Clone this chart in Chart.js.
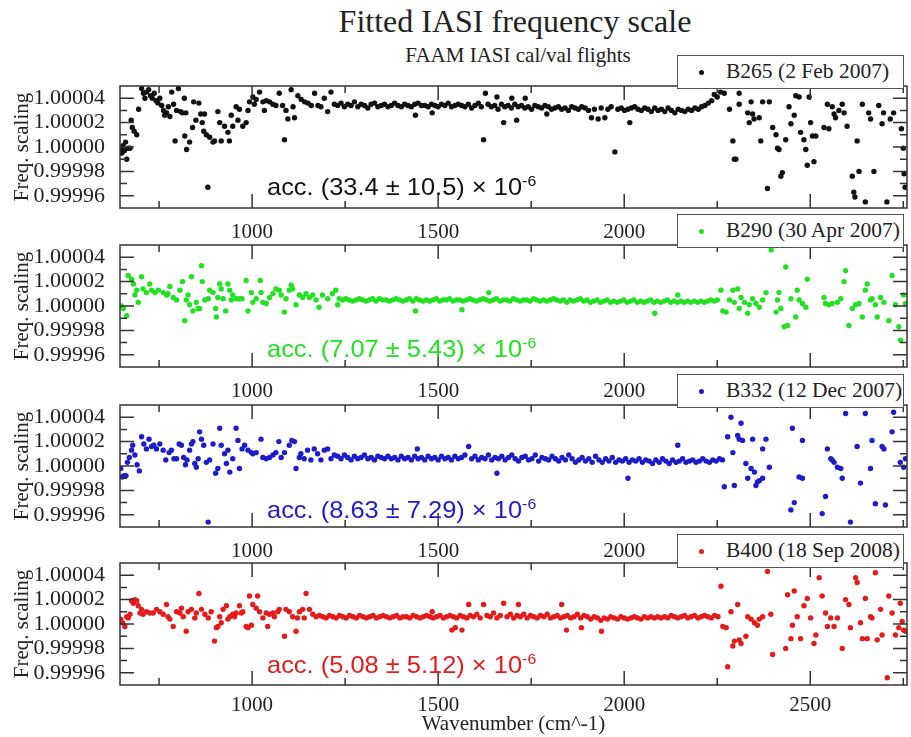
<!DOCTYPE html>
<html>
<head>
<meta charset="utf-8">
<title>Fitted IASI frequency scale</title>
<script src="https://cdn.jsdelivr.net/npm/chart.js@4.4.1/dist/chart.umd.min.js"></script>
<style>
  body { margin: 0; background: #fff; }
  #page { position: relative; width: 911px; height: 737px; overflow: hidden; font-family: "Liberation Serif", "Times New Roman", serif; color: #222; }
  canvas { position: absolute; left: 0; }
  .title { position: absolute; left: 515px; transform: translateX(-50%); white-space: nowrap; line-height: 1; }
  .legend { position: absolute; left: 677px; width: 225px; height: 32px; background: #fff; border: 1.5px solid #555;
            display: flex; align-items: center; font-size: 21.5px; line-height: 1; white-space: nowrap; z-index: 5; }
  .legend i { flex: 0 0 5px; display: inline-block; width: 5px; height: 5px; border-radius: 50%; margin: 0 22px 0 21px; }
  .acc { position: absolute; left: 267px; font-family: "Liberation Sans", Arial, sans-serif; font-size: 24px; line-height: 1;
         white-space: nowrap; transform: scaleX(1.06); transform-origin: left; z-index: 4; }
  .acc sup { font-size: 15px; position: relative; top: -9px; vertical-align: baseline; }
</style>
</head>
<body>
<div id="page">
  <div class="title" style="top:5px;font-size:32px">Fitted IASI frequency scale</div>
  <div class="title" style="top:45px;left:518px;font-size:21px">FAAM IASI cal/val flights</div>

  <canvas id="p1" width="911" height="182" style="top:56px"></canvas>
  <canvas id="p2" width="911" height="182" style="top:215px"></canvas>
  <canvas id="p3" width="911" height="182" style="top:375px"></canvas>
  <canvas id="p4" width="911" height="204" style="top:533px"></canvas>

  <div class="legend" style="top:55px"><i style="background:#111"></i>B265 (2 Feb 2007)</div>
  <div class="legend" style="top:214px"><i style="background:#22e022"></i>B290 (30 Apr 2007)</div>
  <div class="legend" style="top:374px"><i style="background:#1c1cc8"></i>B332 (12 Dec 2007)</div>
  <div class="legend" style="top:534px"><i style="background:#e31b1b"></i>B400 (18 Sep 2008)</div>

  <div class="acc" style="top:175px;color:#111">acc. (33.4 ± 10.5) × 10<sup>-6</sup></div>
  <div class="acc" style="top:337px;color:#22e022">acc. (7.07 ± 5.43) × 10<sup>-6</sup></div>
  <div class="acc" style="top:498px;color:#1c1cc8">acc. (8.63 ± 7.29) × 10<sup>-6</sup></div>
  <div class="acc" style="top:653px;color:#e31b1b">acc. (5.08 ± 5.12) × 10<sup>-6</sup></div>
</div>

<script>
// axis ticks
const xTicks = [1000, 1500, 2000, 2500];
const xMinorTicks = [750, 1250, 1750, 2250, 2750];
const yTicks = [0.99996, 0.99998, 1.00000, 1.00002, 1.00004];
const yMinorTicks = [0.99997, 0.99999, 1.00001, 1.00003];

// [wavenumber (cm^-1), freq. scaling offset in ppm]  ->  scaling = 1 + ppm * 1e-6
const b265 = [
  [647,-2],[650,-5],[653,1],[657,-3],[660,4],[663,-10],[667,-1],[672,-1],[675,22],[678,16],
  [683,13],[690,10],[695,31],[703,48],[708,44],[712,40],[716,45],[722,47],[727,42],[732,40],
  [737,44],[742,38],[747,36],[752,40],[757,34],[762,30],[765,26],[770,28],[775,33],[779,25],
  [784,45],[789,35],[793,5],[797,30],[802,48],[808,29],[812,28],[818,40],[819,9],[822,28],
  [824,-2],[832,4],[840,16],[843,37],[849,22],[857,36],[862,27],[866,20],[870,13],[872,27],
  [877,10],[881,-33],[886,8],[895,4],[899,5],[908,29],[913,20],[917,5],[926,17],[935,12],
  [939,5],[944,26],[948,17],[957,33],[962,22],[966,31],[975,17],[984,20],[989,30],[993,37],
  [1002,41],[1006,35],[1011,39],[1020,45],[1029,37],[1033,30],[1038,38],
  [1047,37],[1056,35],[1064,34],[1073,44],[1082,34],[1087,6],[1091,30],[1096,23],[1105,47],[1110,33],
  [1114,24],[1123,42],[1132,39],[1141,37],[1150,36],[1159,34],[1168,44],[1177,34],[1185,33],[1194,40],
  [1203,29],[1212,45],
  [1221,35],[1230,34],[1239,36],[1248,33],[1257,35],[1266,34],[1275,37],[1284,33],[1293,35],[1302,34],
  [1311,32],[1320,35],[1329,36],[1338,33],[1347,34],[1356,35],[1365,33],[1374,34],[1383,36],[1392,34],
  [1401,33],[1410,35],[1419,34],[1428,33],[1437,35],[1439,26],[1446,36],[1455,34],[1464,34],[1473,33],
  [1482,35],[1484,28],[1491,34],[1500,33],[1509,35],[1518,34],[1527,36],[1536,33],[1545,34],[1554,35],
  [1563,34],[1572,33],[1581,35],[1590,32],[1599,34],[1608,36],[1616,33],[1622,6],[1627,44],[1634,35],
  [1643,33],[1652,34],[1658,41],[1661,31],[1670,35],[1676,20],[1679,33],[1688,34],[1697,32],[1698,40],
  [1706,35],[1711,22],[1715,33],[1724,34],[1733,32],[1734,40],[1742,33],[1751,31],[1760,34],[1769,33],
  [1778,32],[1787,34],[1792,27],[1796,33],[1805,31],[1814,32],[1823,33],[1832,31],[1841,32],[1850,30],
  [1859,33],[1868,32],[1877,31],[1886,33],[1895,32],[1904,30],[1912,24],[1920,31],[1930,23],[1938,32],
  [1948,24],[1956,31],[1965,33],[1975,-4],[1983,31],[1992,32],[2001,30],[2010,31],[2015,20],[2019,32],
  [2028,33],[2037,31],[2046,30],[2055,32],[2064,31],[2073,29],[2082,32],[2091,30],[2100,31],[2109,29],
  [2118,32],[2127,30],[2136,28],[2145,31],[2154,30],[2163,29],[2172,31],[2181,30],[2190,32],[2199,31],
  [2208,33],[2217,34],[2226,36],[2235,38],[2242,43],[2250,41],[2259,45],[2269,44],
  [2283,31],[2292,5],[2296,-10],[2300,-10],[2309,44],[2309,35],[2332,28],[2336,20],[2341,37],[2345,27],
  [2349,23],[2363,24],[2367,5],[2372,37],[2385,-34],[2390,37],[2399,16],[2408,10],[2412,-1],[2416,-2],
  [2421,-24],[2425,-21],[2434,6],[2443,33],[2448,19],[2457,26],[2461,42],[2470,41],[2474,12],[2483,6],
  [2488,-2],[2492,-15],[2497,41],[2501,20],[2506,9],[2510,-12],[2515,9],[2537,16],[2546,35],[2550,15],
  [2559,33],[2564,27],[2568,24],[2577,30],[2586,35],[2591,28],[2599,17],[2613,-24],[2617,-37],[2620,-41],
  [2626,5],[2631,-20],[2640,35],[2648,-45],[2657,28],[2662,23],[2671,-20],[2684,34],[2693,19],[2697,28],
  [2706,-45],[2715,23],[2724,28],[2745,15],[2750,-1],[2752,-22],[2755,-33]
];

const b290 = [
  [649,0],[654,-2],[663,-8],[667,25],[676,22],[681,18],[685,9],[690,13],[694,3],[703,24],
  [707,14],[716,11],[725,18],[730,13],[739,11],[748,13],[761,11],[770,9],[774,10],[779,16],
  [788,7],[797,5],[806,13],[813,20],[819,-12],[823,5],[828,9],[832,1],[837,24],[841,-4],
  [850,3],[855,-2],[859,-2],[864,33],[866,20],[873,5],[882,6],[886,13],[895,11],[902,-2],
  [904,-9],[908,7],[913,18],[917,14],[922,6],[929,-4],[935,18],[940,13],[944,5],[948,9],
  [957,6],[966,6],[973,6],[984,21],[989,-4],[998,11],[1002,3],[1011,6],[1022,21],[1024,11],
  [1029,3],[1038,2],[1047,7],[1056,10],[1064,14],[1073,13],[1078,9],[1087,-5],[1091,6],[1100,13],
  [1105,17],[1109,14],[1118,1],[1127,9],[1136,7],[1145,10],[1154,7],[1163,9],[1172,5],[1180,-1],
  [1189,9],[1203,6],[1216,10],[1225,13],[1230,1],[1234,6],
  [1243,5],[1252,6],[1261,5],[1270,4],[1279,5],[1288,6],[1297,5],[1306,4],[1315,5],[1324,6],
  [1333,4],[1342,6],[1351,5],[1360,5],[1369,4],[1378,5],[1387,6],[1396,5],[1405,4],[1414,5],
  [1423,6],[1432,4],[1439,-4],[1441,6],[1450,5],[1459,4],[1468,5],[1477,4],[1486,5],[1495,6],
  [1504,4],[1513,5],[1522,5],[1531,6],[1540,4],[1549,5],[1558,5],[1564,-3],[1567,4],[1576,5],
  [1585,6],[1594,5],[1603,4],[1612,5],[1621,6],[1630,5],[1636,11],[1639,4],[1648,5],[1657,6],
  [1666,4],[1675,5],[1684,5],[1693,4],[1702,6],[1711,5],[1720,4],[1729,5],[1738,5],[1747,4],
  [1756,6],[1765,5],[1774,4],[1783,5],[1792,4],[1801,5],[1810,6],[1819,5],[1828,4],[1837,5],
  [1846,3],[1855,5],[1864,4],[1873,5],[1882,6],[1891,4],[1900,5],[1909,3],[1918,4],[1927,5],
  [1936,3],[1945,4],[1954,5],[1963,3],[1972,4],[1981,3],[1990,4],[1999,5],[2008,3],[2017,4],
  [2026,5],[2035,3],[2044,4],[2053,3],[2062,4],[2071,5],[2080,3],[2082,-6],[2089,4],[2098,3],
  [2107,4],[2116,5],[2125,3],[2134,4],[2143,3],[2144,9],[2152,4],[2161,3],[2170,4],[2179,3],
  [2188,4],[2197,3],[2206,4],[2215,3],[2224,4],[2233,5],[2242,4],[2250,5],
  [2260,13],[2265,-4],[2274,-5],[2283,5],[2292,13],[2296,3],[2305,14],[2309,-2],[2314,7],[2323,3],
  [2332,-6],[2336,1],[2345,6],[2354,2],[2363,-1],[2372,5],[2381,11],[2395,46],[2408,-5],[2412,5],
  [2416,11],[2421,-2],[2430,-17],[2434,32],[2439,-16],[2448,6],[2461,-9],[2465,13],[2470,5],[2479,2],
  [2488,-1],[2492,22],[2537,7],[2541,2],[2550,1],[2559,2],[2573,3],[2582,6],[2591,20],[2595,29],
  [2604,-16],[2613,-2],[2622,1],[2631,2],[2640,-9],[2648,13],[2653,18],[2662,5],[2666,6],[2675,1],
  [2680,-9],[2689,7],[2698,3],[2711,-12],[2720,25],[2729,1],[2738,-17],[2743,-28],[2751,9],[2756,2]
];

const b332 = [
  [647,-2],[651,-9],[656,-8],[661,-8],[665,3],[670,7],[676,13],[679,17],[685,9],[691,1],
  [697,-4],[703,24],[709,18],[716,14],[723,22],[730,16],[736,17],[743,14],[752,18],[761,13],
  [768,5],[777,11],[783,13],[790,6],[797,6],[804,18],[810,17],[816,7],[821,1],[825,5],
  [832,13],[837,18],[841,20],[846,2],[850,-1],[855,6],[859,28],[864,22],[870,17],[877,3],
  [882,-46],[886,5],[895,18],[902,-6],[908,-2],[913,31],[917,17],[926,10],[931,2],[935,13],
  [940,-5],[948,6],[957,31],[962,21],[966,-2],[973,14],[980,17],[989,13],[998,11],[1002,10],
  [1011,11],[1024,22],[1029,7],[1038,6],[1047,7],[1056,9],[1064,11],[1072,20],[1078,7],[1087,11],
  [1100,17],[1107,21],[1114,20],[1118,-2],[1127,7],[1131,10],[1140,6],[1149,13],[1158,5],[1167,14],
  [1176,10],[1185,5],[1194,13],[1203,14],[1212,6],[1221,9],
  [1230,8],[1239,6],[1248,9],[1257,7],[1266,5],[1275,8],[1284,6],[1293,7],[1302,9],[1311,6],
  [1320,7],[1329,5],[1338,8],[1347,7],[1356,6],[1365,8],[1374,6],[1383,7],[1392,5],[1401,8],
  [1410,6],[1419,7],[1428,5],[1437,8],[1444,14],[1446,6],[1455,7],[1464,5],[1473,8],[1482,6],
  [1491,7],[1500,5],[1509,8],[1518,6],[1527,7],[1536,5],[1545,8],[1554,6],[1563,7],[1572,9],
  [1582,16],[1590,6],[1599,8],[1608,5],[1617,7],[1626,6],[1635,9],[1644,5],[1653,7],[1658,-6],
  [1662,6],[1671,8],[1680,5],[1689,7],[1698,9],[1707,6],[1716,4],[1725,7],[1734,8],[1743,5],
  [1752,6],[1761,9],[1770,4],[1779,7],[1788,6],[1797,5],[1806,8],[1815,6],[1824,4],[1833,7],
  [1842,5],[1851,9],[1860,6],[1869,3],[1878,5],[1887,7],[1896,4],[1905,6],[1914,3],[1923,8],
  [1932,5],[1941,3],[1950,6],[1959,4],[1968,7],[1977,3],[1986,5],[1995,4],[2004,6],[2010,-10],
  [2013,3],[2022,5],[2031,4],[2040,6],[2049,3],[2058,5],[2067,4],[2076,2],[2085,5],[2094,3],
  [2103,6],[2112,4],[2121,2],[2130,5],[2139,3],[2144,17],[2148,4],[2157,6],[2166,3],[2175,4],
  [2184,5],[2193,3],[2202,4],[2211,6],[2220,4],[2229,3],[2238,5],[2247,4],[2256,6],[2264,5],
  [2269,-17],[2278,24],[2287,40],[2292,11],[2296,-16],[2305,25],[2309,22],[2314,35],[2318,21],[2327,2],
  [2332,-10],[2341,-2],[2345,22],[2350,-5],[2354,-16],[2358,-13],[2363,-12],[2372,-10],[2372,14],[2381,22],
  [2390,-1],[2448,-36],[2452,31],[2457,-30],[2470,-9],[2479,21],[2479,-10],[2532,-39],[2541,-25],[2546,14],
  [2555,6],[2559,5],[2564,3],[2573,-1],[2582,-2],[2586,-10],[2595,43],[2608,-46],[2626,16],[2635,-14],
  [2648,43],[2662,-2],[2666,21],[2675,-31],[2693,16],[2698,14],[2702,-32],[2720,28],[2724,44],[2742,3],
  [2751,-1],[2756,6]
];

const b400 = [
  [647,4],[652,1],[658,-2],[663,6],[667,5],[672,8],[676,19],[681,17],[685,20],[690,19],
  [694,15],[699,9],[703,12],[707,8],[716,10],[725,9],[734,9],[743,12],[752,10],[761,8],
  [770,16],[774,6],[779,4],[788,-2],[797,10],[806,9],[810,13],[815,6],[823,-6],[828,10],
  [837,12],[846,5],[850,9],[857,25],[864,12],[873,8],[882,5],[890,10],[899,-14],[904,-3],
  [908,-2],[913,6],[917,1],[922,12],[931,15],[935,4],[940,6],[948,8],[953,6],[957,9],
  [966,15],[971,9],[975,10],[984,-2],[989,-3],[993,23],[998,-1],[1002,16],[1011,13],[1015,23],
  [1020,10],[1029,5],[1038,9],[1042,-2],[1047,8],[1056,9],[1060,6],[1069,10],[1073,12],[1087,-10],
  [1091,12],[1100,10],[1109,6],[1118,-6],[1122,5],[1127,10],[1136,12],[1140,5],[1145,25],[1154,12],
  [1163,8],[1172,6],
  [1181,7],[1190,6],[1199,5],[1208,7],[1217,6],[1226,5],[1235,7],[1244,6],[1253,5],[1262,7],
  [1271,6],[1280,5],[1289,7],[1298,6],[1307,5],[1316,6],[1325,7],[1334,5],[1343,6],[1352,7],
  [1361,6],[1370,5],[1379,6],[1388,7],[1397,5],[1406,6],[1415,6],[1424,5],[1433,7],[1442,6],
  [1451,5],[1460,6],[1469,7],[1478,6],[1484,10],[1487,5],[1496,6],[1505,7],[1514,5],[1523,6],
  [1532,7],[1537,-5],[1541,6],[1546,-3],[1550,5],[1559,7],[1564,-5],[1568,6],[1577,5],[1582,16],
  [1586,7],[1595,6],[1604,8],[1613,5],[1622,16],[1631,7],[1640,6],[1649,9],[1658,5],[1667,7],
  [1676,17],[1685,6],[1694,8],[1703,5],[1712,7],[1716,16],[1721,6],[1730,8],[1739,5],[1748,7],
  [1757,6],[1766,5],[1775,7],[1784,6],[1793,8],[1802,5],[1811,6],[1820,7],[1829,5],[1832,16],
  [1838,6],[1845,-5],[1847,7],[1856,5],[1865,6],[1874,8],[1883,5],[1885,-3],[1892,7],[1901,6],
  [1910,4],[1919,6],[1928,5],[1937,3],[1939,-6],[1946,5],[1955,4],[1964,6],[1973,5],[1982,4],
  [1991,6],[2000,5],[2009,4],[2018,5],[2027,6],[2036,5],[2045,4],[2054,6],[2063,5],[2072,6],
  [2081,5],[2090,6],[2099,5],[2108,6],[2117,5],[2126,7],[2135,6],[2144,5],[2153,6],[2162,7],
  [2171,5],[2180,6],[2189,7],[2198,5],[2207,6],[2216,7],[2225,6],[2234,5],[2243,7],[2252,6],
  [2260,31],[2265,-2],[2274,-3],[2278,-35],[2287,10],[2292,-18],[2296,-14],[2305,16],[2309,-13],[2314,-16],
  [2327,-10],[2332,6],[2341,4],[2350,1],[2358,-1],[2363,4],[2372,6],[2385,43],[2394,8],[2399,-25],
  [2434,-20],[2439,24],[2448,-12],[2452,-1],[2457,27],[2465,6],[2474,-12],[2483,15],[2492,21],[2501,5],
  [2510,-16],[2515,-9],[2524,38],[2532,23],[2541,9],[2546,-2],[2555,5],[2564,-2],[2573,5],[2586,-20],
  [2595,20],[2604,16],[2608,-3],[2622,38],[2626,34],[2635,1],[2640,-12],[2648,21],[2653,-12],[2662,6],
  [2666,5],[2675,42],[2680,-13],[2689,12],[2693,-9],[2707,-44],[2711,23],[2720,9],[2729,-9],[2738,-3],
  [2742,17],[2747,2],[2751,-5],[2756,-6]
];

const AXIS_COLOR = '#333';
const SERIF = 'Liberation Serif';

// frame + inward tick marks on all four sides
const framePlugin = {
  id: 'frame',
  afterDraw(chart) {
    const { ctx, chartArea: a, scales: { x, y } } = chart;
    ctx.save();
    ctx.strokeStyle = AXIS_COLOR;
    ctx.lineWidth = 1.5;
    ctx.strokeRect(a.left, a.top, a.right - a.left, a.bottom - a.top);
    ctx.beginPath();
    const xMark = (v, len) => {
      const px = x.getPixelForValue(v);
      ctx.moveTo(px, a.bottom); ctx.lineTo(px, a.bottom - len);
      ctx.moveTo(px, a.top); ctx.lineTo(px, a.top + len);
    };
    const yMark = (v, len) => {
      const py = y.getPixelForValue(v);
      ctx.moveTo(a.left, py); ctx.lineTo(a.left + len, py);
      ctx.moveTo(a.right, py); ctx.lineTo(a.right - len, py);
    };
    xTicks.forEach(v => xMark(v, 14));
    xMinorTicks.forEach(v => xMark(v, 7));
    yTicks.forEach(v => yMark(v, 14));
    yMinorTicks.forEach(v => yMark(v, 7));
    ctx.stroke();
    ctx.restore();
  }
};

function makePanel(id, pairs, color, isLast) {
  const points = pairs.map(p => ({ x: p[0], y: 1 + p[1] * 1e-6 }));
  return new Chart(document.getElementById(id), {
    type: 'scatter',
    data: {
      datasets: [{
        data: points,
        backgroundColor: color,
        borderColor: color,
        pointRadius: 2.7,
        pointBorderWidth: 0
      }]
    },
    options: {
      responsive: false,
      animation: false,
      layout: { padding: { top: 30, right: 1, left: 0, bottom: 0 } },
      plugins: { legend: { display: false }, tooltip: { enabled: false } },
      scales: {
        x: {
          type: 'linear',
          min: 645,
          max: 2760,
          afterBuildTicks: s => { s.ticks = xTicks.map(v => ({ value: v })); },
          afterFit: s => { s.height = isLast ? 52 : 30; },
          grid: { display: false },
          border: { display: false },
          ticks: { autoSkip: false, maxRotation: 0, padding: isLast ? 0 : 4, color: '#222',
                   font: { family: SERIF, size: 21 }, callback: v => String(v) },
          title: { display: isLast, text: 'Wavenumber (cm^-1)', color: '#222',
                   padding: { top: 0, bottom: 0 }, font: { family: SERIF, size: 21 } }
        },
        y: {
          min: 0.99995,
          max: 1.00005,
          afterBuildTicks: s => { s.ticks = yTicks.map(v => ({ value: v })); },
          afterFit: s => { s.width = 120; },
          grid: { display: false },
          border: { display: false },
          ticks: { padding: 7, color: '#222', font: { family: SERIF, size: 22 },
                   callback: v => v.toFixed(5) },
          title: { display: true, text: 'Freq. scaling', color: '#222',
                   padding: { top: 10, bottom: 0 }, font: { family: SERIF, size: 21 } }
        }
      }
    },
    plugins: [framePlugin]
  });
}

makePanel('p1', b265, '#111', false);
makePanel('p2', b290, '#22e022', false);
makePanel('p3', b332, '#1c1cc8', false);
makePanel('p4', b400, '#e31b1b', true);
</script>
</body>
</html>
